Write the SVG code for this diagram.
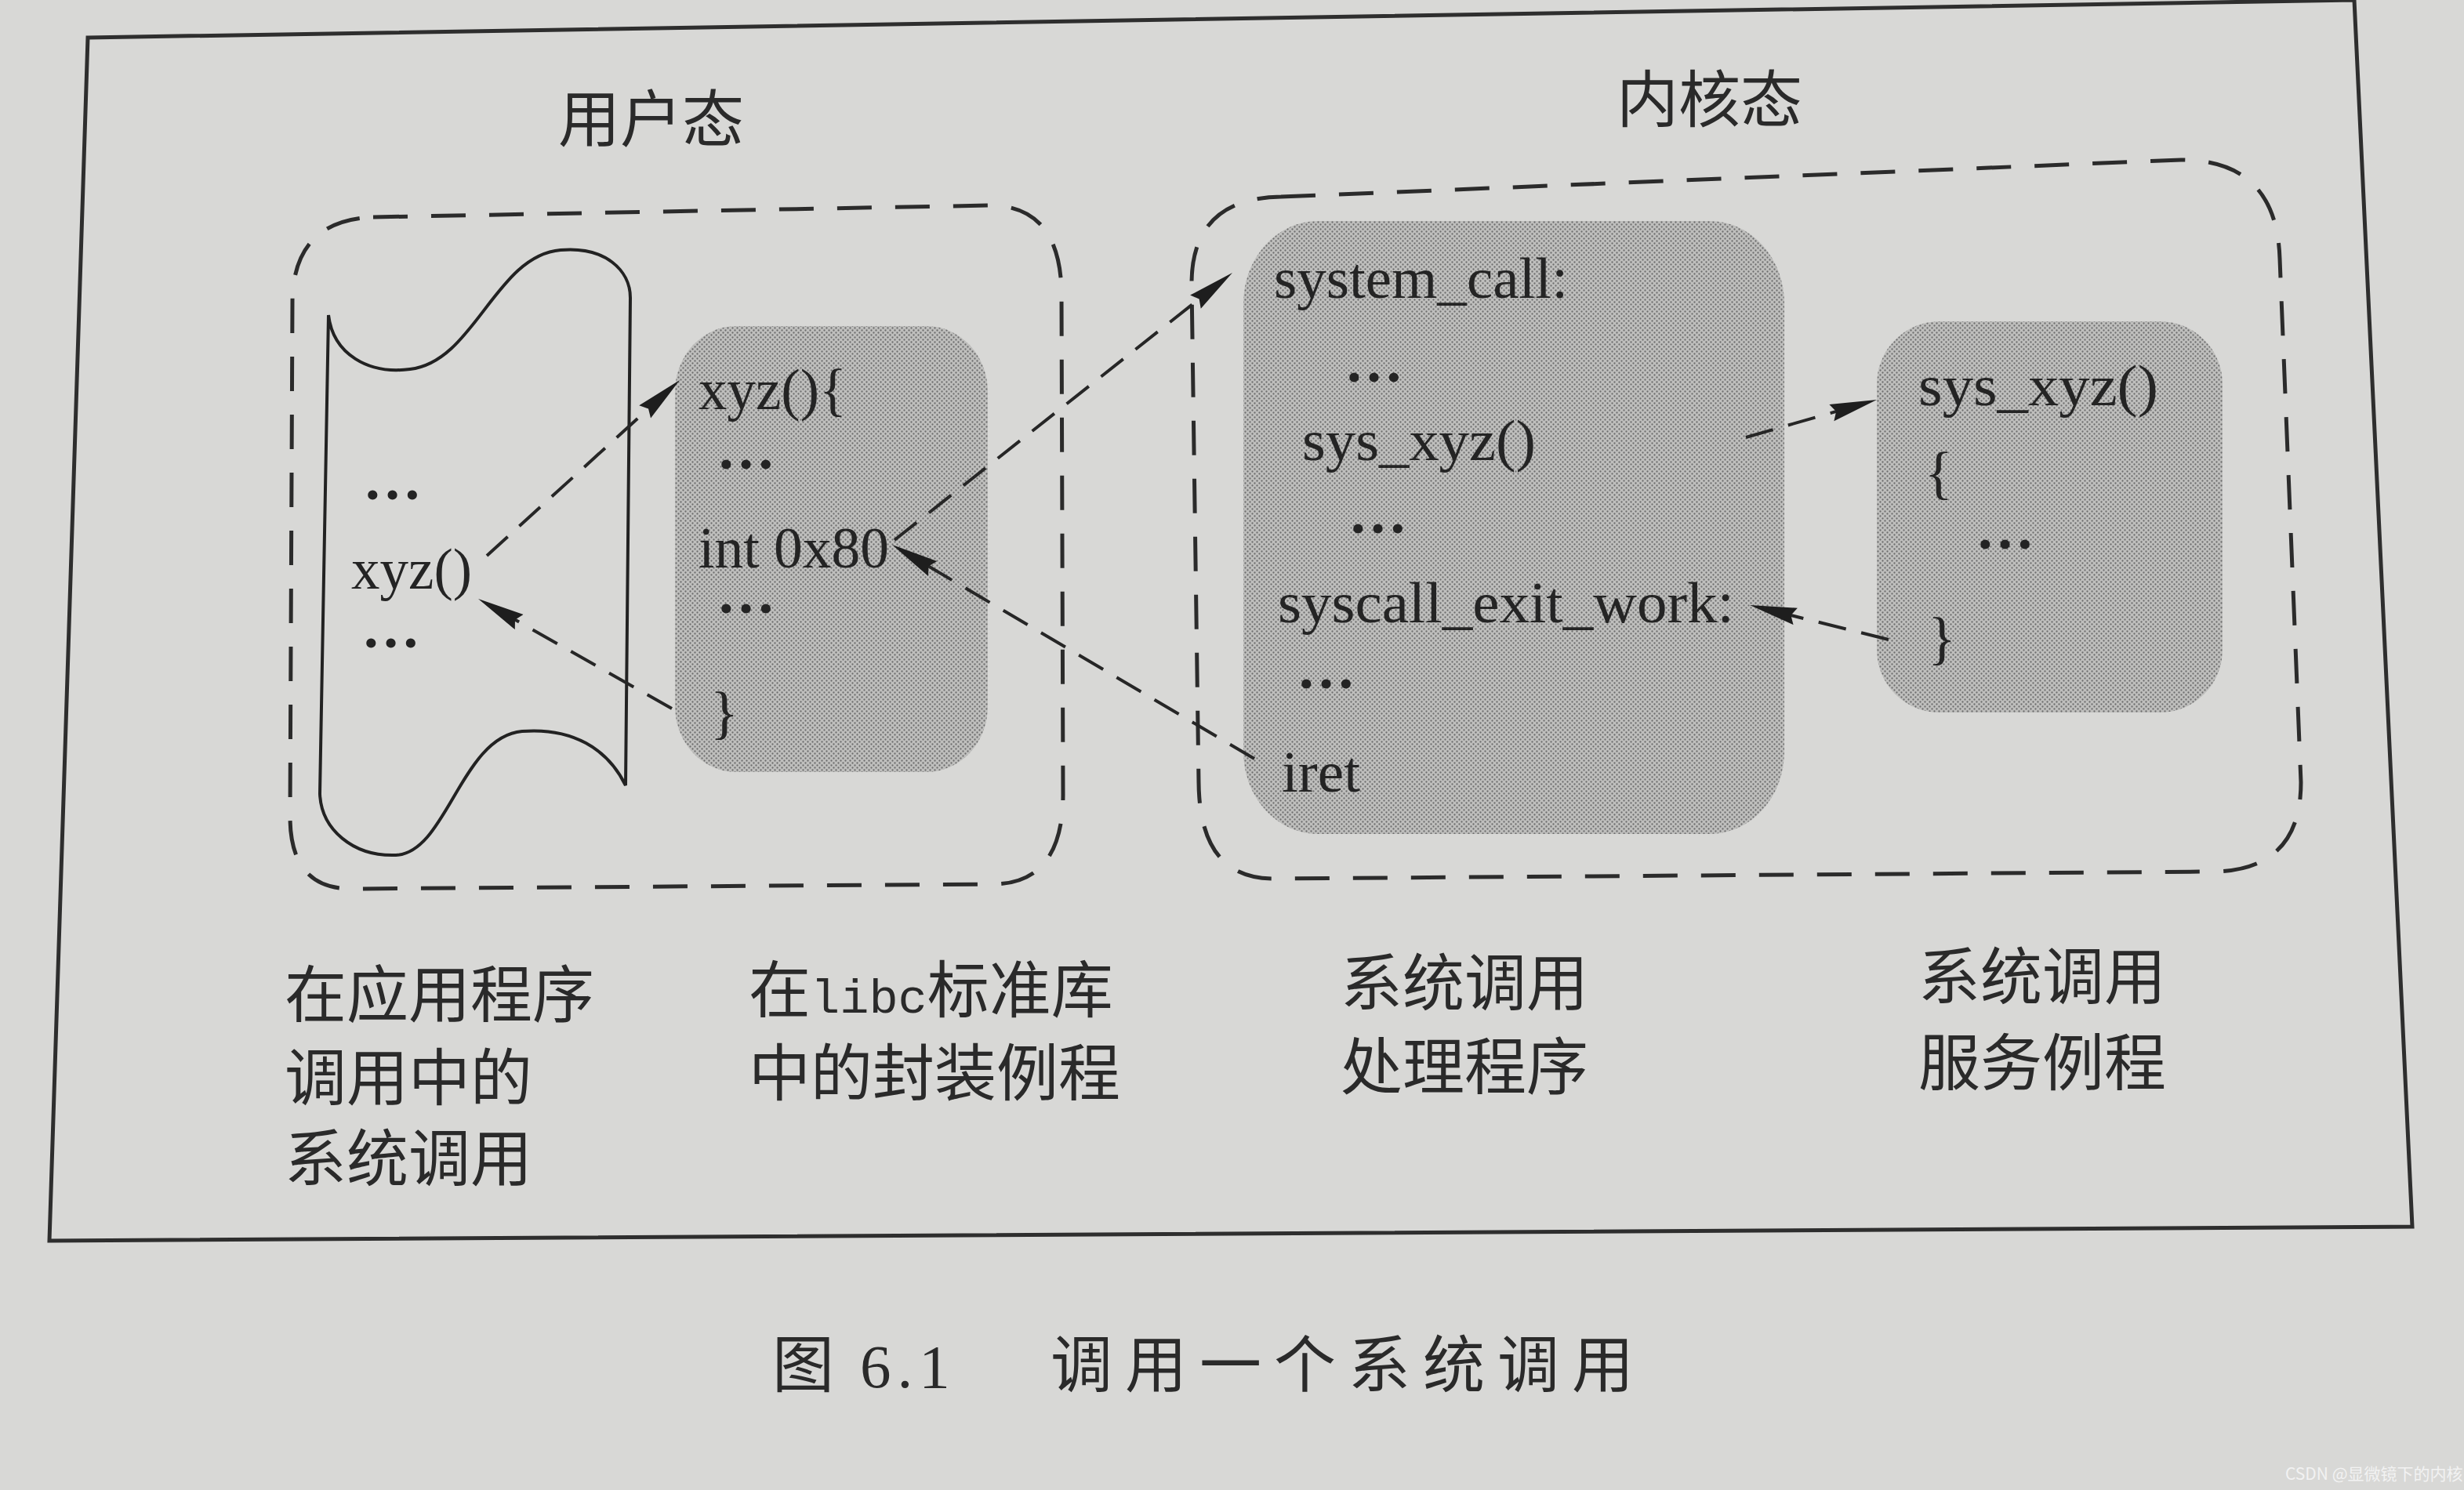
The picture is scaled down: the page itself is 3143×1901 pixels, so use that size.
<svg xmlns="http://www.w3.org/2000/svg" width="3143" height="1901" viewBox="0 0 3143 1901">
  <style>
    .code { font-family: "Liberation Serif", "Times New Roman", serif; font-size: 75px; fill: #242424; }
    .dots { font-weight: bold; }
    .cjk { font-family: "Noto Sans CJK SC", "Noto Sans", sans-serif; font-size: 79px; fill: #2a2a2a; }
    .mono { font-family: "Liberation Mono", "Courier New", monospace; }
    .box { fill: none; stroke: #2b2b2b; stroke-width: 5; stroke-dasharray: 44 30; }
    .shade { fill: url(#dots); stroke: none; }
    .conn { fill: none; stroke: #262626; stroke-width: 4; stroke-dasharray: 36 20; marker-end: url(#head); }
  </style>
  <defs>
    <pattern id="dots" width="6" height="6" patternUnits="userSpaceOnUse">
      <rect width="6" height="6" fill="#bfbfbd"/>
      <circle cx="1.5" cy="1.5" r="1.15" fill="#6e6e6e"/>
      <circle cx="4.5" cy="4.5" r="1.15" fill="#6e6e6e"/>
    </pattern>
    <marker id="head" markerUnits="userSpaceOnUse" markerWidth="62" markerHeight="24" refX="40" refY="11" orient="auto">
      <path d="M0,0 L60,11 L0,22 L6,11 Z" fill="#1e1e1e"/>
    </marker>
  </defs>

  <rect width="3143" height="1901" fill="#d8d8d6"/>

  <g id="frame">
    <polygon points="112,48 3003,0 3077,1565 63,1583" fill="none" stroke="#2e2e2e" stroke-width="5"/>
  </g>

  <g id="user-mode">
    <path class="box" d="M476,277 L1262,262 Q1352,262 1354,372 L1356,1013 Q1356,1128 1266,1128 L448,1134 Q370,1134 370,1042 L373,383 Q375,281 476,277 Z"/>
    <text class="cjk" x="712" y="181" font-size="74">用户态</text>
  </g>

  <g id="app-scroll">
    <path d="M419,402 C425,452 470,478 523,471 C605,462 632,326 715,319 C772,314 804,345 804,380 L798,1002 C775,955 730,928 666,933 C588,940 570,1088 505,1091 C450,1093 410,1058 408,1013 Z" fill="none" stroke="#222" stroke-width="4"/>
    <text class="code dots" x="463" y="637">…</text>
    <text class="code" x="448" y="751" textLength="154" lengthAdjust="spacingAndGlyphs">xyz()</text>
    <text class="code dots" x="461" y="826">…</text>
  </g>

  <g id="libc-wrapper">
    <rect class="shade" x="861" y="416" width="399" height="569" rx="78" ry="84"/>
    <text class="code" x="891" y="522" textLength="189" lengthAdjust="spacingAndGlyphs">xyz(){</text>
    <text class="code dots" x="914" y="598">…</text>
    <text class="code" x="891" y="724" textLength="243" lengthAdjust="spacingAndGlyphs">int 0x80</text>
    <text class="code dots" x="914" y="782">…</text>
    <text class="code" x="906" y="934">}</text>
  </g>

  <g id="kernel-mode">
    <path class="box" d="M1634,251 L2782,204 Q2904,204 2908,330 L2935,998 Q2935,1112 2820,1112 L1624,1121 Q1530,1121 1529,998 L1520,362 Q1520,253 1634,251 Z"/>
    <text class="cjk" x="2062" y="156" font-size="80">内核态</text>
  </g>

  <g id="syscall-handler">
    <rect class="shade" x="1586" y="282" width="690" height="782" rx="95" ry="105"/>
    <text class="code" x="1625" y="380" textLength="375" lengthAdjust="spacingAndGlyphs">system_call:</text>
    <text class="code dots" x="1715" y="487">…</text>
    <text class="code" x="1661" y="587" textLength="298" lengthAdjust="spacingAndGlyphs">sys_xyz()</text>
    <text class="code dots" x="1720" y="680">…</text>
    <text class="code" x="1630" y="794" textLength="582" lengthAdjust="spacingAndGlyphs">syscall_exit_work:</text>
    <text class="code dots" x="1654" y="878">…</text>
    <text class="code" x="1635" y="1010" textLength="100" lengthAdjust="spacingAndGlyphs">iret</text>
  </g>

  <g id="service-routine">
    <rect class="shade" x="2394" y="410" width="441" height="499" rx="80" ry="80"/>
    <text class="code" x="2447" y="517" textLength="306" lengthAdjust="spacingAndGlyphs">sys_xyz()</text>
    <text class="code" x="2455" y="628">{</text>
    <text class="code dots" x="2520" y="700">…</text>
    <text class="code" x="2459" y="839">}</text>
  </g>

  <g id="connectors">
    <path class="conn" d="M621,709 L852.2,498.5"/>
    <path class="conn" d="M857,904 L627.4,773.9"/>
    <path class="conn" d="M1141,689 L1556.3,360.4"/>
    <path class="conn" d="M1600,968 L1155.2,705.2"/>
    <path class="conn" d="M2227,558 L2374.8,515.5"/>
    <path class="conn" d="M2409,816 L2251.4,776.8"/>
  </g>

  <g id="labels">
    <text class="cjk" x="363" y="1298">在应用程序</text>
    <text class="cjk" x="363" y="1404">调用中的</text>
    <text class="cjk" x="363" y="1507">系统调用</text>
    <text class="cjk" x="955" y="1292">在<tspan class="mono" font-size="62">libc</tspan>标准库</text>
    <text class="cjk" x="955" y="1398">中的封装例程</text>
    <text class="cjk" x="1710" y="1283">系统调用</text>
    <text class="cjk" x="1710" y="1390">处理程序</text>
    <text class="cjk" x="2447" y="1275">系统调用</text>
    <text class="cjk" x="2447" y="1385">服务例程</text>
  </g>

  <g id="caption">
    <text class="cjk" y="1770" font-size="84"><tspan x="985">图</tspan><tspan x="1097" font-family="Liberation Serif, serif" letter-spacing="8">6.1</tspan><tspan x="1340" letter-spacing="16">调用一个系统调用</tspan></text>
  </g>

  <text x="2915" y="1888" font-family="Noto Sans CJK SC, sans-serif" font-size="21" fill="#f2f2f2">CSDN @显微镜下的内核</text>
</svg>
